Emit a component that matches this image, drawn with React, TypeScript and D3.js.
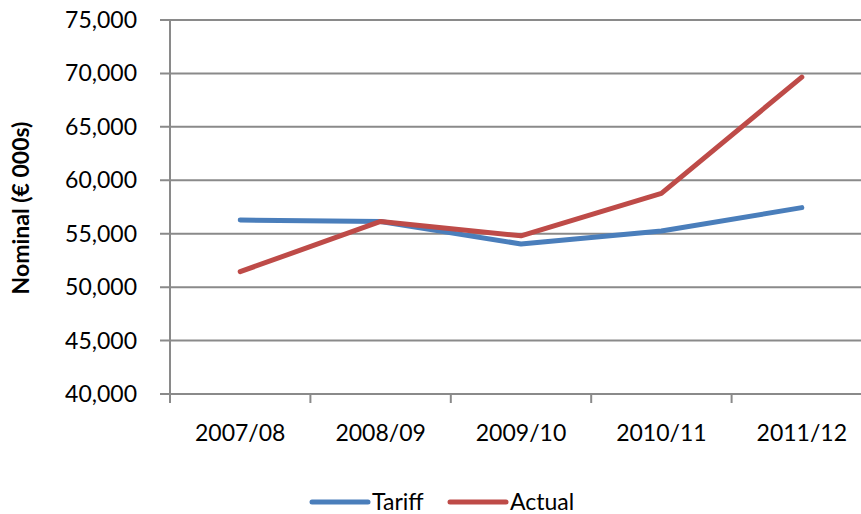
import React from "react";
import * as d3 from "d3";

const categories = ["2007/08", "2008/09", "2009/10", "2010/11", "2011/12"];
const tariff = [56280, 56150, 54040, 55250, 57440];
const actual = [51450, 56150, 54800, 58780, 69650];
const yTicks = [40000, 45000, 50000, 55000, 60000, 65000, 70000, 75000];

const series = [
  { name: "Tariff", values: tariff, color: "#4A7EBB" },
  { name: "Actual", values: actual, color: "#BE4B48" },
];

const W = 861;
const H = 514;
const FONT = "Lato, 'Open Sans', sans-serif";

export default function App() {
  const x = d3.scaleBand<string>().domain(categories).range([170, 872]);
  const y = d3.scaleLinear().domain([40000, 75000]).range([394, 20]);
  const fmt = d3.format(",");
  const line = d3
    .line<number>()
    .x((_, i) => (x(categories[i]) as number) + x.bandwidth() / 2)
    .y((d) => y(d));
  const grid = "#8A8A8A";

  return (
    <svg width={W} height={H} style={{ position: "absolute", left: 0, top: 0, background: "#fff" }}>
      {yTicks.map((t) => (
        <g key={t}>
          <line x1={160} x2={W} y1={y(t)} y2={y(t)} stroke={grid} strokeWidth={2} />
          <text
            x={137}
            y={y(t)}
            dy="0.35em"
            textAnchor="end"
            fontFamily={FONT}
            fontSize={23}
            fill="#000"
          >
            {fmt(t)}
          </text>
        </g>
      ))}
      <line x1={170} x2={170} y1={y(75000)} y2={y(40000) + 9} stroke={grid} strokeWidth={2} />
      {categories.map((c, i) => (
        <g key={c}>
          {i > 0 && (
            <line
              x1={x(c) as number}
              x2={x(c) as number}
              y1={y(40000)}
              y2={y(40000) + 9}
              stroke={grid}
              strokeWidth={2}
            />
          )}
          <text
            x={(x(c) as number) + x.bandwidth() / 2}
            y={441}
            textAnchor="middle"
            fontFamily={FONT}
            fontSize={23}
            fill="#000"
          >
            {c}
          </text>
        </g>
      ))}
      <text
        transform={`translate(29,208) rotate(-90)`}
        textAnchor="middle"
        fontFamily={FONT}
        fontSize={23}
        fontWeight="bold"
        fill="#000"
      >
        Nominal (€ 000s)
      </text>
      {series.map((s) => (
        <path
          key={s.name}
          d={line(s.values) as string}
          fill="none"
          stroke={s.color}
          strokeWidth={5}
          strokeLinecap="round"
          strokeLinejoin="round"
        />
      ))}
      {series.map((s, i) => {
        const lx = i === 0 ? 312 : 450;
        return (
          <g key={s.name}>
            <line x1={lx} x2={lx + 56} y1={502} y2={502} stroke={s.color} strokeWidth={5} strokeLinecap="round" />
            <text x={lx + 60} y={502} dy="0.35em" fontFamily={FONT} fontSize={23} fill="#000">
              {s.name}
            </text>
          </g>
        );
      })}
    </svg>
  );
}
